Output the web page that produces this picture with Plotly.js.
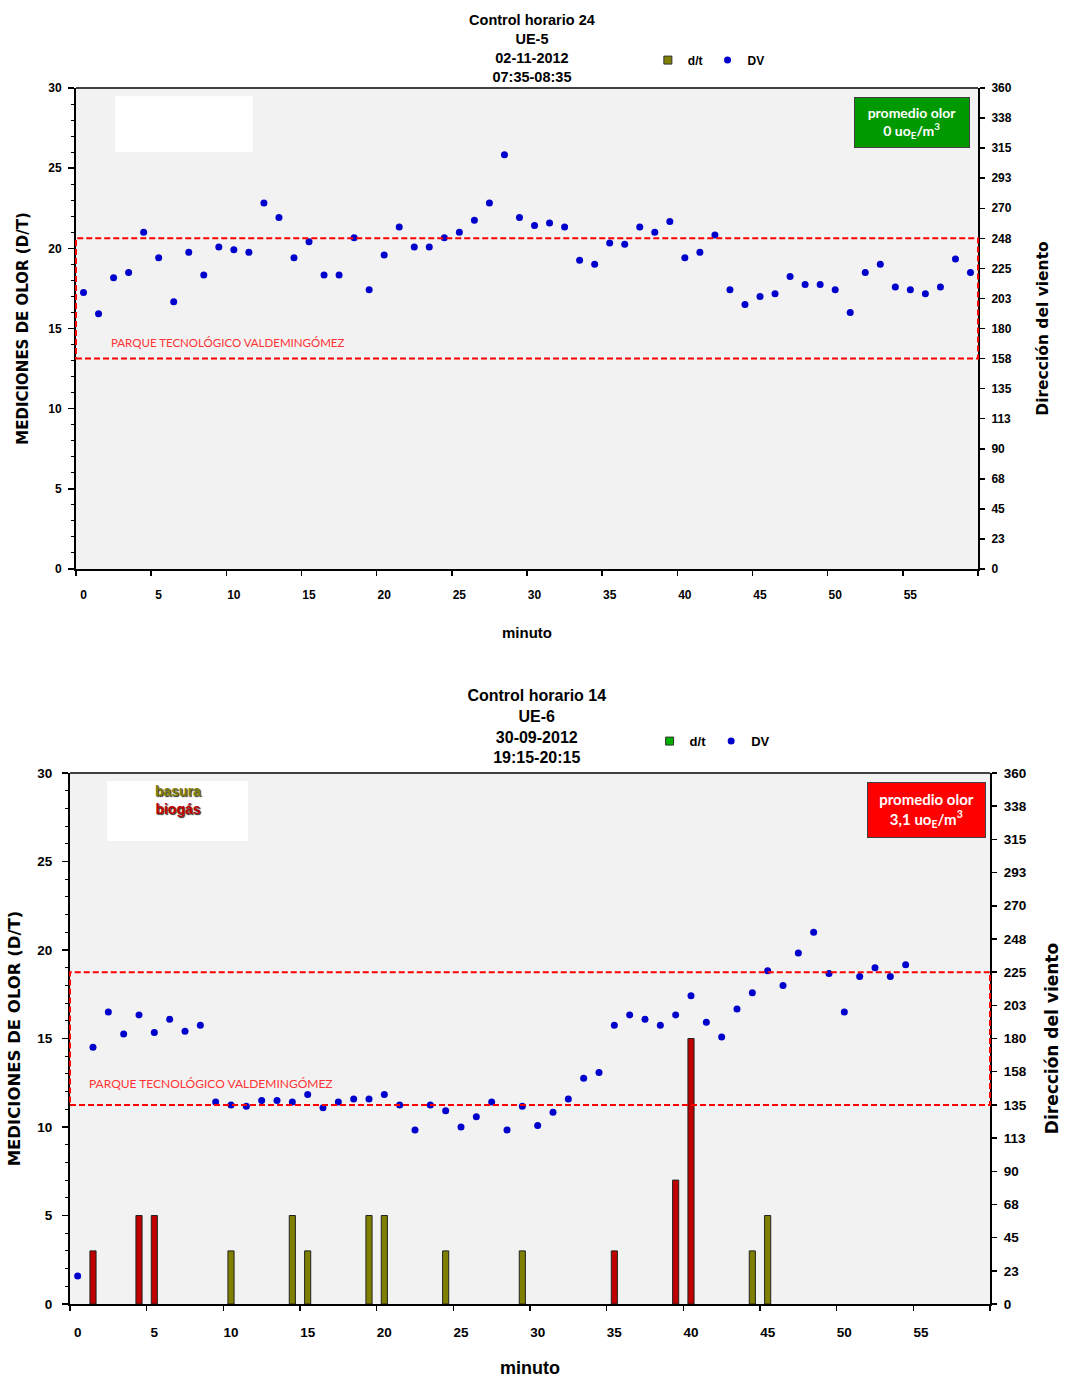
<!DOCTYPE html>
<html>
<head>
<meta charset="utf-8">
<script src="https://cdn.plot.ly/plotly-3.0.1.min.js"></script>
<style>
  body { margin: 0; background: #ffffff; }
  #chart1 { width: 1065px; height: 660px; }
  #chart2 { width: 1065px; height: 718px; }
</style>
</head>
<body>
<div id="chart1"></div>
<div id="chart2"></div>
<script>
// ---------------- DATA ----------------
const minutes = [0,1,2,3,4,5,6,7,8,9,10,11,12,13,14,15,16,17,18,19,20,21,22,23,24,25,26,27,28,29,
                 30,31,32,33,34,35,36,37,38,39,40,41,42,43,44,45,46,47,48,49,50,51,52,53,54,55,56,57,58,59];

// Chart 1: Control horario 24, UE-5, 02-11-2012 07:35-08:35
const dvTop = [207,191,218,222,252,233,200,237,220,241,239,237,274,263,233,245,220,220,248,209,
               235,256,241,241,248,252,261,274,310,263,257,259,256,231,228,244,243,256,252,260,
               233,237,250,209,198,204,206,219,213,213,209,192,222,228,211,209,206,211,232,222];
const dtTop = [0,0,0,0,0,0,0,0,0,0,0,0,0,0,0,0,0,0,0,0,0,0,0,0,0,0,0,0,0,0,
               0,0,0,0,0,0,0,0,0,0,0,0,0,0,0,0,0,0,0,0,0,0,0,0,0,0,0,0,0,0];
const sectorTop = [157.5, 247.5];

// Chart 2: Control horario 14, UE-6, 30-09-2012 19:15-20:15
const dvBottom = [19,174,198,183,196,184,193,185,189,137,135,134,138,138,137,142,133,137,139,139,
                  142,135,118,135,131,120,127,137,118,134,121,130,139,153,157,189,196,193,189,196,
                  209,191,181,200,211,226,216,238,252,224,198,222,228,222,230,null,null,null,null,null];
const dtMinutesBottom = [1,4,5,10,14,15,19,20,24,29,35,39,40,44,45];
const dtValuesBottom  = [3,5,5,3,5,3,5,5,3,3,3,7,15,3,5];
const dtSourceBottom  = ['biogás','biogás','biogás','basura','basura','basura','basura','basura',
                         'basura','basura','biogás','biogás','biogás','basura','basura'];
const sectorBottom = [135, 225];

// Axis tick labels
const xTickVals = [0,5,10,15,20,25,30,35,40,45,50,55];
const xTickText = ['0','5','10','15','20','25','30','35','40','45','50','55'];
const xBoundaryTicks = [-0.5,4.5,9.5,14.5,19.5,24.5,29.5,34.5,39.5,44.5,49.5,54.5,59.5];
const dirTickVals = [0,22.5,45,67.5,90,112.5,135,157.5,180,202.5,225,247.5,270,292.5,315,337.5,360];
const dirTickText = ['0','23','45','68','90','113','135','158','180','203','225','248','270','293','315','338','360'];

const sourceColors = { 'basura': '#808000', 'biogás': '#C00000' };

// ---------------- STYLE ----------------
const F = 'Liberation Sans, Arial, sans-serif';
const FW = 'DejaVu Sans, Verdana, sans-serif';
const FC = 'Lato, Liberation Sans, sans-serif';

function axisX(s) {
  return {
    range: [-0.5, 59.5], tickmode: 'array', tickvals: xTickVals, ticktext: xTickText,
    ticks: '', ticklabelstandoff: s.xStand,
    minor: { tickmode: 'array', tickvals: xBoundaryTicks, ticks: 'outside', ticklen: 5, tickwidth: 1.5, tickcolor: '#000' },
    showline: true, linecolor: '#000', linewidth: 2, showgrid: false, zeroline: false,
    tickfont: { family: F, size: s.tickSize, color: '#000', weight: 'bold' },
    title: { text: 'minuto', font: { family: F, size: s.xTitleSize, color: '#000', weight: 'bold' }, standoff: s.xTitleStand },
    automargin: false, fixedrange: true
  };
}
function axisY(s) {
  return {
    range: [0, 30], tickmode: 'linear', tick0: 0, dtick: 5, ticks: 'outside', ticklen: 6, tickwidth: 1.5, tickcolor: '#000',
    minor: { dtick: 1, ticks: 'outside', ticklen: 3, tickwidth: 1, tickcolor: '#000' },
    ticklabelstandoff: s.yStand,
    showline: true, linecolor: '#000', linewidth: 2, showgrid: false, zeroline: false,
    tickfont: { family: F, size: s.tickSize, color: '#000', weight: 'bold' },
    title: { text: 'MEDICIONES DE OLOR (D/T)', font: { family: FW, size: s.yTitleSize, color: '#000', weight: 'bold' }, standoff: s.yTitleStand },
    automargin: false, fixedrange: true
  };
}
function axisY2(s) {
  return {
    overlaying: 'y', side: 'right', range: [0, 360], tickmode: 'array', tickvals: dirTickVals, ticktext: dirTickText,
    ticks: 'outside', ticklen: 5, tickwidth: 1.5, tickcolor: '#000', ticklabelstandoff: s.y2Stand,
    showline: true, linecolor: '#000', linewidth: 2, showgrid: false, zeroline: false,
    tickfont: { family: F, size: s.tickSize, color: '#000', weight: 'bold' },
    title: { text: 'Dirección del viento', font: { family: FW, size: s.y2TitleSize, color: '#000', weight: 'bold' }, standoff: s.y2TitleStand },
    automargin: false, fixedrange: true
  };
}
function sectorShapes(sector, whiteBox) {
  return [
    { type: 'rect', xref: 'paper', yref: 'paper', x0: whiteBox[0], x1: whiteBox[1], y0: whiteBox[2], y1: whiteBox[3],
      fillcolor: '#FFFFFF', line: { width: 0 }, layer: 'below' },
    { type: 'rect', xref: 'paper', yref: 'y2', x0: 0, x1: 1, y0: sector[0], y1: sector[1],
      fillcolor: 'rgba(0,0,0,0)', line: { color: '#FF0000', width: 2, dash: '6px,3px' } },
    { type: 'line', xref: 'paper', yref: 'paper', x0: 0, x1: 1, y0: 1, y1: 1, line: { color: '#404040', width: 2 } }
  ];
}
function legendDummy(name, color) {
  return { type: 'scatter', mode: 'markers', x: [null], y: [null], name: name, showlegend: true,
           marker: { symbol: 'square', size: 8, color: color, line: { color: '#333', width: 1 } }, hoverinfo: 'skip' };
}

// ---------------- CHART 1 ----------------
const s1 = { tickSize: 12, xStand: 14, yStand: 4, y2Stand: 4, xTitleSize: 15, xTitleStand: 26,
             yTitleSize: 15, yTitleStand: 16, y2TitleSize: 15.5, y2TitleStand: 26 };
const traces1 = [
  legendDummy('d/t', '#808000'),
  { type: 'bar', x: minutes, y: dtTop, name: 'd/t', showlegend: false, width: 0.4, yaxis: 'y',
    marker: { color: '#808000', line: { width: 0 } } },
  { type: 'scatter', mode: 'markers', x: minutes, y: dvTop, name: 'DV', yaxis: 'y2',
    marker: { color: '#0000CC', size: 7 } }
];
const layout1 = {
  width: 1065, height: 660,
  margin: { l: 76, r: 87, t: 88, b: 91 },
  paper_bgcolor: '#FFFFFF', plot_bgcolor: '#F2F2F2',
  title: { text: 'Control horario 24<br>UE-5<br>02-11-2012<br>07:35-08:35', xref: 'container', x: 0.4995, xanchor: 'center',
           yref: 'container', y: 0.962, yanchor: 'top', font: { family: F, size: 14.5, color: '#000', weight: 'bold' } },
  showlegend: true,
  legend: { orientation: 'h', x: 0.634, xanchor: 'left', y: 1.058, yanchor: 'middle', itemwidth: 30,
            font: { family: F, size: 12, color: '#000', weight: 'bold' }, bgcolor: 'rgba(0,0,0,0)' },
  xaxis: axisX(s1), yaxis: axisY(s1), yaxis2: axisY2(s1),
  shapes: sectorShapes(sectorTop, [0.0432, 0.196, 0.867, 0.983]),
  annotations: [
    { xref: 'paper', yref: 'paper', x: 0.991, y: 0.981, xanchor: 'right', yanchor: 'top', showarrow: false,
      text: 'promedio olor<br>0 uo<sub>E</sub>/m<sup>3</sup>', align: 'center',
      bgcolor: '#009900', bordercolor: '#404040', borderwidth: 1, borderpad: 0, width: 114, height: 49,
      font: { family: FC, size: 14, color: '#FFFFFF', weight: 'bold' } },
    { xref: 'paper', yref: 'paper', x: 0.1685, y: 0.470, xanchor: 'center', yanchor: 'middle', showarrow: false,
      text: 'PARQUE TECNOLÓGICO VALDEMINGÓMEZ', font: { family: FC, size: 11.5, color: '#FF3333' } }
  ]
};
Plotly.newPlot('chart1', traces1, layout1, { displayModeBar: false, staticPlot: true });

// ---------------- CHART 2 ----------------
const s2 = { tickSize: 13.5, xStand: 15, yStand: 7, y2Stand: 4, xTitleSize: 18, xTitleStand: 23,
             yTitleSize: 16.5, yTitleStand: 12, y2TitleSize: 17, y2TitleStand: 20 };
const traces2 = [
  legendDummy('d/t', '#00B000'),
  { type: 'bar', x: dtMinutesBottom, y: dtValuesBottom, name: 'd/t', showlegend: false, width: 0.4, yaxis: 'y',
    marker: { color: dtSourceBottom.map(function (s) { return sourceColors[s]; }), line: { color: '#222', width: 1 } } },
  { type: 'scatter', mode: 'markers', x: minutes, y: dvBottom, name: 'DV', yaxis: 'y2',
    marker: { color: '#0000CC', size: 7 } }
];
const layout2 = {
  width: 1065, height: 718,
  margin: { l: 70, r: 75, t: 113, b: 74 },
  paper_bgcolor: '#FFFFFF', plot_bgcolor: '#F2F2F2',
  title: { text: 'Control horario 14<br>UE-6<br>30-09-2012<br>19:15-20:15', xref: 'container', x: 0.504, xanchor: 'center',
           yref: 'container', y: 0.943, yanchor: 'top', font: { family: F, size: 16, color: '#000', weight: 'bold' } },
  showlegend: true,
  legend: { orientation: 'h', x: 0.63, xanchor: 'left', y: 1.06, yanchor: 'middle', itemwidth: 30,
            font: { family: F, size: 13, color: '#000', weight: 'bold' }, bgcolor: 'rgba(0,0,0,0)' },
  xaxis: axisX(s2), yaxis: axisY(s2), yaxis2: axisY2(s2),
  shapes: sectorShapes(sectorBottom, [0.0402, 0.1935, 0.872, 0.985]),
  annotations: [
    { xref: 'paper', yref: 'paper', x: 0.9957, y: 0.983, xanchor: 'right', yanchor: 'top', showarrow: false,
      text: 'promedio olor<br>3,1 uo<sub>E</sub>/m<sup>3</sup>', align: 'center',
      bgcolor: '#FF0000', bordercolor: '#404040', borderwidth: 1, borderpad: 0, width: 117, height: 54,
      font: { family: FC, size: 15, color: '#FFFFFF', weight: 'bold' } },
    { xref: 'paper', yref: 'paper', x: 0.1174, y: 0.949, xanchor: 'center', yanchor: 'middle', showarrow: false,
      text: '<span style="color:#808000">basura</span><br><span style="color:#C00000">biogás</span>',
      font: { family: F, size: 14, color: '#808000', weight: 'bold', shadow: '1px 1px 1px #222' } },
    { xref: 'paper', yref: 'paper', x: 0.1533, y: 0.416, xanchor: 'center', yanchor: 'middle', showarrow: false,
      text: 'PARQUE TECNOLÓGICO VALDEMINGÓMEZ', font: { family: FC, size: 12, color: '#FF3333' } }
  ]
};
Plotly.newPlot('chart2', traces2, layout2, { displayModeBar: false, staticPlot: true });
</script>
</body>
</html>
